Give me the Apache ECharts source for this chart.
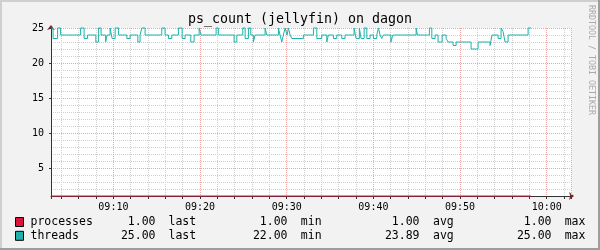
<!DOCTYPE html>
<html>
<head>
<meta charset="utf-8">
<script src="https://cdn.jsdelivr.net/npm/echarts@6/dist/echarts.min.js"></script>
<style>html,body{margin:0;padding:0;background:#F2F2F2;}#c{width:600px;height:250px;}</style>
</head>
<body>
<div id="c"></div>
<script>
// ---- data (minutes after 09:00) ----
const axisStartMinute = 2.8;
const axisEndMinute = 62.8;
const majorMinutes = [10, 20, 30, 40, 50, 60];
const majorLabels = ['09:10', '09:20', '09:30', '09:40', '09:50', '10:00'];
const yMin = 1;
const yMax = 25;

const threadTimes = [2.8, 3.04, 3.56, 3.91, 6.22, 6.62, 7.02, 7.97, 8.29, 8.58, 9.10, 9.27, 9.62, 9.85, 10.20, 10.60,
  11.55, 11.93, 12.82, 13.08, 13.28, 13.66, 15.58, 15.96, 16.35, 16.74, 17.50, 17.93, 18.27, 18.93, 19.31, 19.89,
  20.12, 21.85, 22.11, 23.93, 24.24, 24.93, 25.20, 25.58, 25.85, 26.15, 26.35, 27.50, 27.70, 29.04, 29.23, 29.43,
  29.61, 29.81, 30.04, 30.19, 30.39, 30.58, 31.92, 33.08, 33.47, 34.04, 34.62, 34.81, 35.38, 35.77, 36.35, 36.73,
  37.77, 38.00, 38.38, 38.58, 38.93, 39.24, 39.62, 40.00, 40.39, 40.58, 40.77, 40.97, 41.15, 42.01, 42.24, 44.93,
  45.08, 46.46, 46.74, 47.12, 47.46, 47.93, 48.39, 48.62, 49.19, 49.54, 51.27, 52.08, 53.46, 53.69, 54.39, 54.73,
  54.96, 55.19, 55.54, 57.85, 58.19];
const threadValues = [25, 23.5, 25, 24, 25, 23.5, 24, 23, 25, 24, 23, 24, 25, 23.5, 25, 24,
  23.5, 24, 23, 24, 25, 24, 25, 24, 23.5, 24, 25, 23.5, 24, 23, 24, 25,
  24, 25, 24, 23, 24, 25, 23.5, 25, 24, 23, 24, 25, 24, 25, 24, 23,
  24, 25, 24, 25, 24, 23.5, 24, 25, 23.5, 24, 23, 24, 23.5, 24, 23.5, 24,
  25, 23.5, 25, 23.5, 25, 23.5, 24, 23.5, 24, 25, 24, 23.5, 24, 23, 24, 25,
  24, 25, 23.5, 24, 23, 24, 23.5, 23, 22.5, 23, 22, 23, 22.5, 24, 23.5, 25,
  24.5, 23, 24, 25, 25];
const processTimes = [2.8, 58.19];
const processValues = [1, 1];

const legendNames = ['processes', 'threads'];
const lastValues = ['1.00', '25.00'];
const minValues = ['1.00', '22.00'];
const avgValues = ['1.00', '23.89'];
const maxValues = ['1.00', '25.00'];
const titleText = 'ps_count (jellyfin) on dagon';
const watermarkText = 'RRDTOOL / TOBI OETIKER';

// ---- styles ----
const FONT = 'DejaVu Sans Mono';
const seriesColors = ['#DC143C', '#20B2AA'];
const majorGrid = '#F0A4A4';
const minorGrid = '#CFCFCF';
const axisColor = '#333333';
const arrowColor = '#801F1F';

function zip(xs, ys) { return xs.map((x, i) => [x, ys[i]]); }
function txt(x, y, s, size, align, color, extra) {
  return Object.assign({
    type: 'text', x: x, y: y, silent: true, z: 100,
    style: { text: s, fontFamily: FONT, fontSize: size, fill: color || '#000',
      align: align || 'left', verticalAlign: 'middle' }
  }, extra || {});
}

const graphics = [
  { type: 'rect', shape: { x: 0, y: 0, width: 600, height: 2 }, style: { fill: '#CFCFCF' }, silent: true, z: 100 },
  { type: 'rect', shape: { x: 0, y: 0, width: 2, height: 250 }, style: { fill: '#CFCFCF' }, silent: true, z: 100 },
  { type: 'rect', shape: { x: 598, y: 0, width: 2, height: 250 }, style: { fill: '#9E9E9E' }, silent: true, z: 100 },
  { type: 'rect', shape: { x: 0, y: 248, width: 600, height: 2 }, style: { fill: '#9E9E9E' }, silent: true, z: 100 },
  txt(300, 19.5, titleText, 13.3, 'center'),
  txt(591, 60, watermarkText, 8.3, 'center', '#AAAAAA', { rotation: -Math.PI / 2 })
];
const rowY = [222, 235.8];
legendNames.forEach((name, i) => {
  const y = rowY[i];
  graphics.push({ type: 'rect', shape: { x: 15.5, y: y - 4.5, width: 8, height: 9 },
    style: { fill: seriesColors[i], stroke: '#000', lineWidth: 1 }, silent: true, z: 100 });
  graphics.push(txt(30.5, y, name, 11.5, 'left'));
  graphics.push(txt(155.5, y, lastValues[i], 11.5, 'right'));
  graphics.push(txt(168.5, y, 'last', 11.5, 'left'));
  graphics.push(txt(287.5, y, minValues[i], 11.5, 'right'));
  graphics.push(txt(300.8, y, 'min', 11.5, 'left'));
  graphics.push(txt(419.5, y, avgValues[i], 11.5, 'right'));
  graphics.push(txt(433, y, 'avg', 11.5, 'left'));
  graphics.push(txt(551.5, y, maxValues[i], 11.5, 'right'));
  graphics.push(txt(564.7, y, 'max', 11.5, 'left'));
});

const chart = echarts.init(document.getElementById('c'), null, { renderer: 'canvas' });
chart.setOption({
  animation: false,
  backgroundColor: '#F2F2F2',
  grid: { left: 51, right: 29, top: 28, bottom: 54, show: true, backgroundColor: '#FFFFFF', borderWidth: 0, containLabel: false },
  xAxis: [
    { // major grid + labels (10-minute steps)
      type: 'value', min: axisStartMinute, max: axisEndMinute, splitNumber: 6, position: 'bottom', z: 2,
      axisLine: { show: true, onZero: false, lineStyle: { color: axisColor, width: 1 } },
      axisTick: { show: true, length: 3, lineStyle: { color: axisColor } },
      axisLabel: { show: true, showMinLabel: false, showMaxLabel: false, margin: 6, fontFamily: FONT, fontSize: 10, color: '#000',
        formatter: v => majorLabels[majorMinutes.indexOf(Math.round(v))] || '' },
      splitLine: { show: true, lineStyle: { color: majorGrid, width: 1, type: [1, 1] } }
    },
    { // minor grid (2-minute steps) + arrow
      type: 'value', min: axisStartMinute, max: axisEndMinute, splitNumber: 30, position: 'bottom', z: 1,
      axisLine: { show: true, onZero: false, symbol: ['none', 'arrow'], symbolSize: [6, 5], symbolOffset: [0, 3],
        lineStyle: { color: arrowColor, width: 0 } },
      axisTick: { show: true, length: 3, lineStyle: { color: axisColor } },
      axisLabel: { show: false },
      splitLine: { show: true, lineStyle: { color: minorGrid, width: 1, type: [1, 1] } }
    }
  ],
  yAxis: [
    { // major grid + labels
      type: 'value', min: yMin, max: yMax, splitNumber: 5, position: 'left', z: 2,
      axisLine: { show: true, onZero: false, lineStyle: { color: axisColor, width: 1 } },
      axisTick: { show: true, length: 2, lineStyle: { color: axisColor } },
      axisLabel: { show: true, showMinLabel: false, margin: 7, fontFamily: FONT, fontSize: 10, color: '#000' },
      splitLine: { show: true, lineStyle: { color: majorGrid, width: 1, type: [1, 1] } }
    },
    { // minor grid + arrow
      type: 'value', min: yMin, max: yMax, interval: 1, position: 'left', z: 1,
      axisLine: { show: true, onZero: false, symbol: ['none', 'arrow'], symbolSize: [6, 5], symbolOffset: [0, 3],
        lineStyle: { color: arrowColor, width: 0 } },
      axisTick: { show: false },
      axisLabel: { show: false },
      splitLine: { show: true, lineStyle: { color: minorGrid, width: 1, type: [1, 1] } }
    }
  ],
  series: [
    {
      name: 'threads', type: 'line', xAxisIndex: 0, yAxisIndex: 0, step: 'end', showSymbol: false,
      data: zip(threadTimes, threadValues), clip: false, z: 3,
      lineStyle: { color: seriesColors[1], width: 1 }, itemStyle: { color: seriesColors[1] }
    },
    {
      name: 'processes', type: 'line', xAxisIndex: 0, yAxisIndex: 0, step: 'end', showSymbol: false,
      data: zip(processTimes, processValues), clip: false, z: 4,
      lineStyle: { color: seriesColors[0], width: 1 }, itemStyle: { color: seriesColors[0] }
    }
  ],
  graphic: graphics
});
</script>
</body>
</html>
